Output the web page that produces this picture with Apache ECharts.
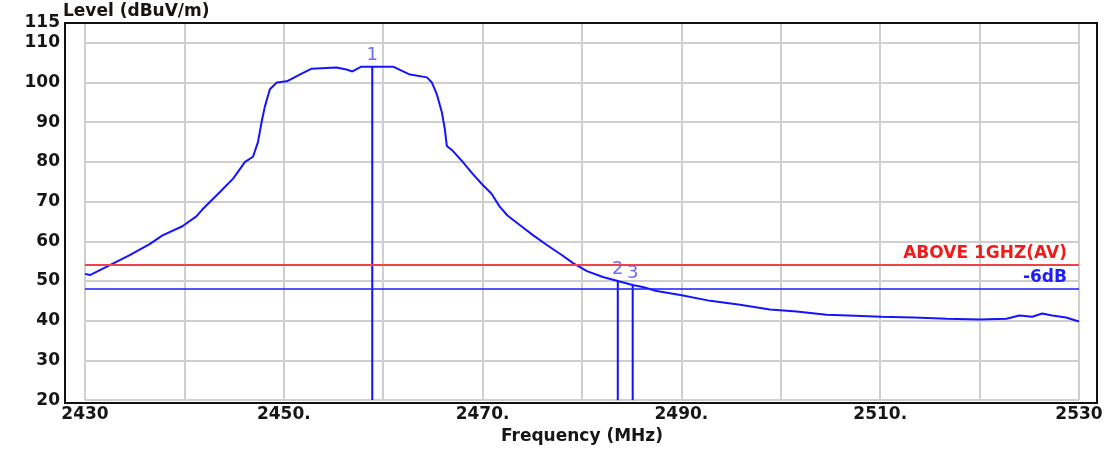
<!DOCTYPE html>
<html>
<head>
<meta charset="utf-8">
<script src="https://cdn.jsdelivr.net/npm/echarts@6/dist/echarts.min.js"></script>
<style>
  html, body { margin: 0; padding: 0; background: #ffffff; }
  #chart { width: 1118px; height: 450px; }
</style>
</head>
<body>
<div id="chart"></div>
<script>
// ---- data ----
const freqs = [
  2430.0, 2430.5, 2432.5, 2434.5, 2436.5, 2437.8, 2439.8, 2441.2, 2441.8, 2443.6,
  2444.9, 2446.1, 2446.9, 2447.4, 2447.8, 2448.1, 2448.6, 2449.3, 2450.3, 2451.6,
  2452.8, 2455.3, 2456.3, 2456.9, 2457.8, 2458.9, 2461.0, 2462.0, 2462.7, 2464.4,
  2464.9, 2465.4, 2465.9, 2466.2, 2466.4, 2467.0, 2468.0, 2469.0, 2469.9, 2470.9,
  2471.7, 2472.5, 2473.8, 2475.1, 2476.5, 2478.0, 2479.1, 2480.5, 2482.1, 2483.6,
  2485.1, 2486.1, 2487.5, 2489.9, 2492.9, 2495.9, 2498.9, 2501.6, 2504.6, 2506.8,
  2510.1, 2513.4, 2516.7, 2520.0, 2522.7, 2524.0, 2525.3, 2526.3, 2527.3, 2528.7,
  2530.0
];
const levels = [
  51.8, 51.5, 54.0, 56.5, 59.3, 61.5, 63.8, 66.3, 68.0, 72.5,
  75.8, 80.0, 81.3, 85.0, 90.5, 94.0, 98.3, 100.0, 100.3, 102.0,
  103.5, 103.8, 103.3, 102.8, 104.0, 104.0, 104.0, 102.8, 102.0, 101.3,
  100.0, 97.0, 92.5, 88.3, 84.0, 82.8, 80.0, 77.0, 74.5, 72.0,
  68.8, 66.5, 64.0, 61.5, 59.0, 56.5, 54.5, 52.5, 51.0, 50.0,
  49.0, 48.5, 47.5, 46.5, 45.0, 44.0, 42.8, 42.3, 41.5, 41.3,
  41.0, 40.8, 40.5, 40.3, 40.5, 41.3, 41.0, 41.8, 41.3, 40.8,
  39.8
];
const markerNames  = ['1', '2', '3'];
const markerFreqs  = [2458.9, 2483.6, 2485.1];
const markerLevels = [104.0, 50.0, 49.0];

const limitLevel = 54;
const limitName = 'ABOVE 1GHZ(AV)';
const marginLevel = 48;
const marginName = '-6dB';

const xTickValues = [2430, 2450, 2470, 2490, 2510, 2530];
const xTickLabels = ['2430', '2450.', '2470.', '2490.', '2510.', '2530'];

const titleText = 'Level (dBuV/m)';
const xName = 'Frequency (MHz)';

// ---- chart ----
const FONT = 'DejaVu Sans';
const chart = echarts.init(document.getElementById('chart'), null, { renderer: 'canvas' });

const curve = freqs.map((f, i) => [f, levels[i]]);

const markerSeries = markerNames.map((name, i) => ({
  type: 'line',
  xAxisIndex: 0, yAxisIndex: 0,
  data: [[markerFreqs[i], 20], [markerFreqs[i], markerLevels[i]]],
  symbol: 'none',
  lineStyle: { color: '#1010ff', width: 2 },
  z: 3,
  silent: true
}));

const option = {
  animation: false,
  backgroundColor: '#ffffff',
  title: {
    text: titleText,
    left: 63, top: 3, padding: 0,
    textStyle: { fontFamily: FONT, fontSize: 17, fontWeight: 'bold', color: '#1a1410' }
  },
  grid: [
    { left: 85, right: 39, top: 23, bottom: 47, containLabel: false },
    { left: 65, right: 21, top: 23, bottom: 47, show: true, borderColor: '#111111', borderWidth: 2, backgroundColor: 'transparent', z: 1 }
  ],
  xAxis: [
    {
      type: 'value', gridIndex: 0,
      min: 2430, max: 2530, interval: 10,
      axisLine: { show: false },
      axisTick: { show: false },
      splitLine: { show: true, lineStyle: { color: '#cfcfcf', width: 2 } },
      axisLabel: {
        show: true, interval: 0, margin: 6, hideOverlap: false,
        showMinLabel: true, showMaxLabel: true,
        fontFamily: FONT, fontSize: 17, fontWeight: 'bold', color: '#161616',
        formatter: function (v) {
          const k = xTickValues.indexOf(Math.round(v));
          return k >= 0 ? xTickLabels[k] : '';
        }
      },
      name: xName, nameLocation: 'middle', nameGap: 25,
      nameTextStyle: { fontFamily: FONT, fontSize: 17, fontWeight: 'bold', color: '#161616' }
    },
    { type: 'value', gridIndex: 1, show: false, min: 0, max: 1 }
  ],
  yAxis: [
    {
      type: 'value', gridIndex: 0,
      min: 20, max: 115, interval: 10,
      axisLine: { show: false },
      axisTick: { show: false },
      splitLine: { show: true, lineStyle: { color: '#cfcfcf', width: 2 } },
      axisLabel: {
        show: true, margin: 25, showMinLabel: true, showMaxLabel: true,
        fontFamily: FONT, fontSize: 17, fontWeight: 'bold', color: '#161616'
      }
    },
    { type: 'value', gridIndex: 1, show: false, min: 0, max: 1 }
  ],
  series: [
    {
      type: 'line',
      xAxisIndex: 0, yAxisIndex: 0,
      data: curve,
      symbol: 'none',
      lineStyle: { color: '#1414ff', width: 2 },
      z: 3,
      silent: true,
      markLine: {
        silent: true,
        symbol: 'none',
        animation: false,
        data: [
          {
            yAxis: limitLevel,
            lineStyle: { color: '#f04444', width: 2, type: 'solid' },
            label: {
              show: true, position: 'insideEndTop', distance: [12, 3],
              formatter: limitName,
              fontFamily: FONT, fontSize: 17, fontWeight: 'bold', color: '#f01c1c'
            }
          },
          {
            yAxis: marginLevel,
            lineStyle: { color: '#1c1cff', width: 1.5, type: 'solid' },
            label: {
              show: true, position: 'insideEndTop', distance: [12, 3],
              formatter: marginName,
              fontFamily: FONT, fontSize: 17, fontWeight: 'bold', color: '#1c1cff'
            }
          }
        ]
      }
    },
    ...markerSeries,
    {
      type: 'scatter',
      xAxisIndex: 0, yAxisIndex: 0,
      data: markerFreqs.map((f, i) => ({ value: [f, markerLevels[i]], name: markerNames[i] })),
      symbolSize: 1,
      itemStyle: { color: 'rgba(0,0,0,0)' },
      z: 4,
      silent: true,
      label: {
        show: true, position: 'top', distance: 2,
        formatter: function (p) { return p.name; },
        fontFamily: FONT, fontSize: 18, color: '#4646ff'
      }
    }
  ]
};

chart.setOption(option);
</script>
</body>
</html>
